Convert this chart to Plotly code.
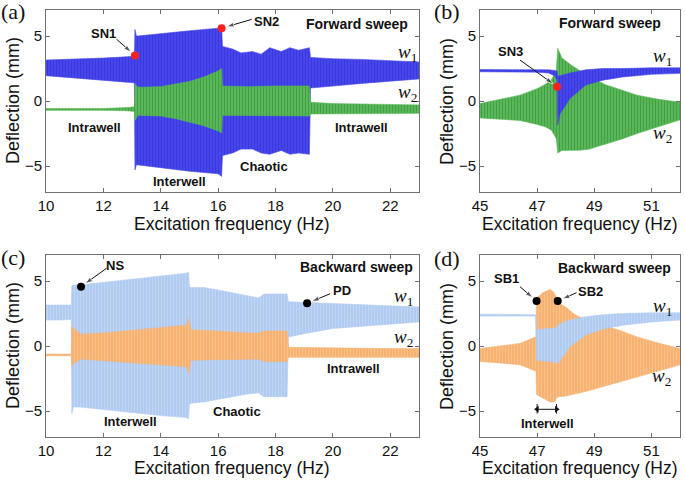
import plotly.graph_objects as go

W, H = 685, 481

# ---------------- Panel (a): forward sweep, low frequency ----------------
a_w1_f = [10, 11, 12, 12.8, 13.08, 13.1, 13.15, 13.2, 14, 15, 16.0, 16.12, 16.15, 16.5, 16.8, 17.2, 17.5, 17.8, 18.2, 18.5, 18.8, 19.18, 19.22, 20, 21, 22, 23]
a_w1_up = [3.15, 3.2, 3.3, 3.4, 3.45, 5.5, 5.0, 5.0, 5.2, 5.4, 5.6, 5.7, 4.2, 4.0, 3.7, 3.8, 3.6, 4.1, 3.8, 4.1, 3.9, 4.1, 3.35, 3.25, 3.2, 3.1, 3.0]
a_w1_lo = [1.95, 1.8, 1.6, 1.45, 1.4, -5.3, -4.9, -4.9, -5.1, -5.4, -5.6, -5.8, -4.2, -4.0, -3.7, -3.7, -4.0, -4.1, -3.8, -4.1, -4.0, -4.1, 1.0, 1.15, 1.35, 1.55, 1.7]

a_w2_f = [10, 12, 12.8, 13.08, 13.1, 13.2, 14, 14.5, 15, 15.5, 16.0, 16.12, 16.15, 17, 18, 19.18, 19.22, 20, 21, 22, 23]
a_w2_up = [-0.58, -0.58, -0.5, -0.45, 1.3, 1.05, 1.1, 1.3, 1.5, 1.85, 2.3, 2.5, 1.15, 1.1, 1.15, 1.15, -0.1, -0.2, -0.25, -0.3, -0.3]
a_w2_lo = [-0.72, -0.72, -0.75, -0.8, -1.5, -1.1, -1.15, -1.35, -1.6, -1.9, -2.3, -2.45, -1.1, -1.1, -1.15, -1.15, -1.0, -0.95, -0.95, -0.95, -0.95]

# ---------------- Panel (b): forward sweep, high frequency ----------------
b_w1_f = [45, 46, 47, 47.4, 47.6, 47.7, 47.72, 47.8, 48.15, 48.7, 49.3, 50, 50.5, 51, 52]
b_w1_up = [2.42, 2.42, 2.4, 2.4, 2.35, 2.3, 1.9, 1.95, 2.15, 2.4, 2.5, 2.5, 2.55, 2.55, 2.55]
b_w1_lo = [2.25, 2.25, 2.22, 2.15, 1.95, 1.6, -1.85, -1.0, 0.2, 1.23, 1.6, 1.85, 1.95, 2.05, 2.13]

b_w2_f = [45, 45.7, 46.4, 47.0, 47.3, 47.5, 47.67, 47.72, 47.87, 48.2, 48.5, 48.8, 49.4, 50, 50.5, 51.2, 52]
b_w2_up = [-0.2, 0.1, 0.45, 0.95, 1.3, 1.65, 2.3, 4.05, 3.3, 2.75, 2.3, 1.9, 1.25, 0.8, 0.45, 0.15, -0.1]
b_w2_lo = [-1.3, -1.4, -1.5, -1.8, -2.0, -2.25, -2.9, -4.0, -3.8, -3.8, -3.78, -3.72, -3.3, -2.9, -2.5, -2.0, -1.45]

# ---------------- Panel (c): backward sweep, low frequency ----------------
c_w1_f = [10, 10.5, 10.88, 10.9, 10.95, 11.2, 12, 13, 14, 14.9, 14.97, 15.0, 15.05, 15.5, 16, 16.5, 17, 17.4, 17.6, 18.0, 18.4, 18.45, 19, 20, 21, 22, 23]
c_w1_up = [3.15, 3.15, 3.15, 4.6, 4.7, 4.7, 4.9, 5.15, 5.4, 5.6, 5.7, 4.6, 4.5, 4.5, 4.3, 4.1, 3.9, 3.7, 4.0, 4.0, 4.0, 3.4, 3.35, 3.25, 3.15, 3.1, 3.0]
c_w1_lo = [2.0, 2.0, 2.05, -5.2, -4.7, -4.7, -4.9, -5.1, -5.35, -5.5, -5.6, -4.5, -4.4, -4.3, -4.1, -3.9, -3.7, -3.6, -3.9, -3.9, -3.9, 0.7, 0.95, 1.35, 1.55, 1.7, 1.85]

c_w2_f = [10, 10.88, 10.9, 11.0, 11.2, 12, 13, 14, 14.9, 14.97, 15.05, 16, 17, 17.4, 17.6, 18.4, 18.45, 19, 20, 21, 22, 23]
c_w2_up = [-0.62, -0.62, 1.5, 1.3, 0.9, 1.0, 1.2, 1.45, 1.6, 2.1, 1.25, 1.15, 1.0, 1.0, 1.15, 1.15, -0.1, -0.12, -0.15, -0.2, -0.2, -0.2]
c_w2_lo = [-0.75, -0.75, -1.5, -1.3, -1.0, -1.1, -1.25, -1.45, -1.6, -2.1, -1.1, -1.05, -1.0, -1.0, -1.2, -1.2, -0.87, -0.87, -0.87, -0.87, -0.87, -0.87]

# ---------------- Panel (d): backward sweep, high frequency ----------------
d_w1_f = [45, 46, 46.95, 46.98, 47.2, 47.5, 47.68, 47.72, 47.9, 48.15, 48.7, 49.3, 50, 51, 52]
d_w1_up = [2.45, 2.45, 2.4, 1.25, 1.3, 1.35, 1.4, 1.6, 1.8, 2.0, 2.25, 2.4, 2.5, 2.55, 2.55]
d_w1_lo = [2.3, 2.3, 2.3, -1.1, -1.15, -1.2, -1.3, -1.33, -0.8, -0.05, 0.85, 1.3, 1.6, 1.85, 2.0]

d_w2_f = [45, 45.7, 46.4, 46.9, 46.96, 46.98, 47.2, 47.45, 47.6, 47.7, 47.75, 48.0, 48.3, 48.7, 49.3, 49.9, 50.5, 51.2, 52]
d_w2_up = [-0.2, 0.0, 0.2, 0.65, 0.7, 3.7, 4.1, 4.35, 4.1, 3.6, 3.3, 3.0, 2.45, 2.0, 1.6, 1.2, 0.7, 0.25, -0.2]
d_w2_lo = [-1.2, -1.3, -1.45, -1.9, -1.95, -3.75, -4.0, -4.3, -4.3, -3.95, -3.9, -3.85, -3.7, -3.5, -3.15, -2.75, -2.4, -1.95, -1.45]

# ---------------- Marked points ----------------
a_pts_x = [13.1, 16.12]
a_pts_y = [3.5, 5.6]
b_pts_x = [47.7]
b_pts_y = [1.1]
c_pts_x = [11.22, 19.1]
c_pts_y = [4.56, 3.28]
d_pts_x = [46.98, 47.72]
d_pts_y = [3.46, 3.46]

x_ticks_low = [10, 12, 14, 16, 18, 20, 22]
x_ticks_high = [45, 47, 49, 51]
y_ticks = [-5, 0, 5]

BLUE, BLUE_FG = "#4646ec", "#2a2ac2"
GREEN, GREEN_FG = "#58b858", "#2f7f2f"
LBLUE, LBLUE_FG = "#b0cbf1", "#d8e5f8"
ORANGE, ORANGE_FG = "#f7b272", "#fbd1a6"

fig = go.Figure()


def axn(ax):
    return ("x", "y") if ax == 1 else (f"x{ax}", f"y{ax}")


def envelope(f, up, lo, ax, color, fg):
    xa, ya = axn(ax)
    fig.add_trace(go.Scatter(
        x=list(f) + list(f)[::-1], y=list(up) + list(lo)[::-1],
        fill="toself", fillcolor=color, mode="lines",
        line=dict(width=0.6, color=color),
        fillpattern=dict(shape="|", fgcolor=fg, bgcolor=color, size=3, solidity=0.3),
        xaxis=xa, yaxis=ya, hoverinfo="skip", showlegend=False))


def arrow(ax, x0, y0, x1, y1):
    xa, ya = axn(ax)
    fig.add_trace(go.Scatter(
        x=[x0, x1], y=[y0, y1], mode="lines+markers",
        line=dict(color="#111", width=1),
        marker=dict(symbol="arrow", size=[0, 8], angleref="previous", color="#111", standoff=5),
        xaxis=xa, yaxis=ya, hoverinfo="skip", showlegend=False))


def dots(xs, ys, ax, color):
    xa, ya = axn(ax)
    fig.add_trace(go.Scatter(x=xs, y=ys, mode="markers",
                             marker=dict(size=8, color=color),
                             xaxis=xa, yaxis=ya, showlegend=False, hoverinfo="skip"))


envelope(a_w1_f, a_w1_up, a_w1_lo, 1, BLUE, BLUE_FG)
envelope(a_w2_f, a_w2_up, a_w2_lo, 1, GREEN, GREEN_FG)
arrow(1, 12.46, 4.75, 13.1, 3.5)
arrow(1, 17.17, 6.28, 16.12, 5.6)
dots(a_pts_x, a_pts_y, 1, "#ff2020")

envelope(b_w2_f, b_w2_up, b_w2_lo, 2, GREEN, GREEN_FG)
envelope(b_w1_f, b_w1_up, b_w1_lo, 2, BLUE, BLUE_FG)
arrow(2, 46.4, 3.15, 47.7, 1.1)
dots(b_pts_x, b_pts_y, 2, "#ff2020")

envelope(c_w1_f, c_w1_up, c_w1_lo, 3, LBLUE, LBLUE_FG)
envelope(c_w2_f, c_w2_up, c_w2_lo, 3, ORANGE, ORANGE_FG)
arrow(3, 12.11, 5.98, 11.22, 4.56)
arrow(3, 19.9, 4.02, 19.1, 3.28)
dots(c_pts_x, c_pts_y, 3, "#000000")

envelope(d_w2_f, d_w2_up, d_w2_lo, 4, ORANGE, ORANGE_FG)
envelope(d_w1_f, d_w1_up, d_w1_lo, 4, LBLUE, LBLUE_FG)
arrow(4, 46.4, 4.56, 46.98, 3.46)
arrow(4, 48.38, 4.1, 47.72, 3.46)
dots(d_pts_x, d_pts_y, 4, "#000000")

# interwell span marker in (d)
span_x = [47.0, 47.68]
span_y = [-4.87, -4.87]
fig.add_trace(go.Scatter(x=span_x, y=span_y, mode="lines+markers",
                         line=dict(color="#111", width=1),
                         marker=dict(symbol=["triangle-left", "triangle-right"], size=6, color="#111"),
                         xaxis="x4", yaxis="y4", hoverinfo="skip", showlegend=False))
for sx in span_x:
    fig.add_shape(type="line", xref="x4", yref="y4", x0=sx, x1=sx, y0=-4.46, y1=-5.2,
                  line=dict(color="#111", width=1))

SANS = "Arial, Liberation Sans, sans-serif"
SERIF = "Times New Roman, Liberation Serif, serif"

axis_common = dict(showline=True, linecolor="#707070", linewidth=1, mirror="ticks",
                   ticks="inside", ticklen=4, tickcolor="#707070", showgrid=False,
                   zeroline=False, automargin=False,
                   tickfont=dict(family=SANS, size=15, color="#111"))

top = [1 - 192 / H, 1 - 10 / H]
bot = [1 - 437 / H, 1 - 255 / H]
left = [46 / W, 419 / W]
right = [480 / W, 680 / W]

fig.update_layout(
    width=W, height=H, margin=dict(l=0, r=0, t=0, b=0, autoexpand=False),
    paper_bgcolor="white", plot_bgcolor="white", showlegend=False,
    xaxis=dict(domain=left, range=[10, 23], tickvals=x_ticks_low, anchor="y", **axis_common),
    yaxis=dict(domain=top, range=[-7, 7], tickvals=y_ticks, anchor="x", **axis_common),
    xaxis2=dict(domain=right, range=[45, 52], tickvals=x_ticks_high, anchor="y2", **axis_common),
    yaxis2=dict(domain=top, range=[-7, 7], tickvals=y_ticks, anchor="x2", **axis_common),
    xaxis3=dict(domain=left, range=[10, 23], tickvals=x_ticks_low, anchor="y3", **axis_common),
    yaxis3=dict(domain=bot, range=[-7, 7], tickvals=y_ticks, anchor="x3", **axis_common),
    xaxis4=dict(domain=right, range=[45, 52], tickvals=x_ticks_high, anchor="y4", **axis_common),
    yaxis4=dict(domain=bot, range=[-7, 7], tickvals=y_ticks, anchor="x4", **axis_common),
)

ann = []


def txt(ax, x, y, s, size=13, bold=True, family=SANS):
    xr, yr = axn(ax)
    ann.append(dict(xref=xr, yref=yr, x=x, y=y, text=s, showarrow=False,
                    xanchor="center", yanchor="middle",
                    font=dict(family=family, size=size, color="#111",
                              weight="bold" if bold else "normal")))


W1 = "<i>w</i><sub>1</sub>"
W2 = "<i>w</i><sub>2</sub>"

# (a)
txt(1, 12.0, 5.2, "SN1")
txt(1, 17.7, 6.1, "SN2")
txt(1, 20.85, 5.9, "Forward sweep", size=14)
txt(1, 22.6, 3.7, W1, size=19, bold=False, family=SERIF)
txt(1, 22.6, 0.6, W2, size=19, bold=False, family=SERIF)
txt(1, 11.7, -2.0, "Intrawell")
txt(1, 14.66, -6.2, "Interwell")
txt(1, 17.6, -5.05, "Chaotic")
txt(1, 21.0, -2.0, "Intrawell")

# (b)
txt(2, 46.05, 3.8, "SN3")
txt(2, 49.55, 6.0, "Forward sweep", size=14)
txt(2, 51.4, 3.4, W1, size=19, bold=False, family=SERIF)
txt(2, 51.4, -2.5, W2, size=19, bold=False, family=SERIF)

# (c)
txt(3, 12.4, 6.23, "NS")
txt(3, 20.3, 4.3, "PD")
txt(3, 20.82, 6.1, "Backward sweep", size=14)
txt(3, 22.45, 3.8, W1, size=19, bold=False, family=SERIF)
txt(3, 22.45, 0.59, W2, size=19, bold=False, family=SERIF)
txt(3, 20.73, -1.72, "Intrawell")
txt(3, 12.93, -5.82, "Interwell")
txt(3, 16.64, -5.05, "Chaotic")

# (d)
txt(4, 45.93, 5.2, "SB1")
txt(4, 48.85, 4.18, "SB2")
txt(4, 49.7, 5.97, "Backward sweep", size=14)
txt(4, 51.4, 3.0, W1, size=19, bold=False, family=SERIF)
txt(4, 51.36, -2.36, W2, size=19, bold=False, family=SERIF)
txt(4, 47.36, -5.95, "Interwell")


def paper_txt(cx, cy, s, size, family, angle=0):
    ann.append(dict(xref="paper", yref="paper", x=cx / W, y=1 - cy / H, text=s,
                    textangle=angle, showarrow=False, xanchor="center", yanchor="middle",
                    font=dict(family=family, size=size, color="#111")))


# Axis titles and panel labels (paper coordinates)
for cx, cy in [(13, 101), (13, 346), (447, 101), (447, 346)]:
    paper_txt(cx, cy, "Deflection (mm)", 18, SANS, angle=-90)
for cx, cy in [(232.5, 223.5), (580, 223.5), (232.5, 468), (580, 468)]:
    paper_txt(cx, cy, "Excitation frequency (Hz)", 17.5, SANS)
for lab, cx, cy in [("(a)", 13, 11), ("(b)", 447, 11), ("(c)", 13, 257), ("(d)", 447, 258)]:
    paper_txt(cx, cy, lab, 22, SERIF)

fig.update_layout(annotations=ann)
fig.write_html("out.html", config={"displayModeBar": False},
               post_script="document.body.style.margin='0';document.body.style.overflow='hidden';")
